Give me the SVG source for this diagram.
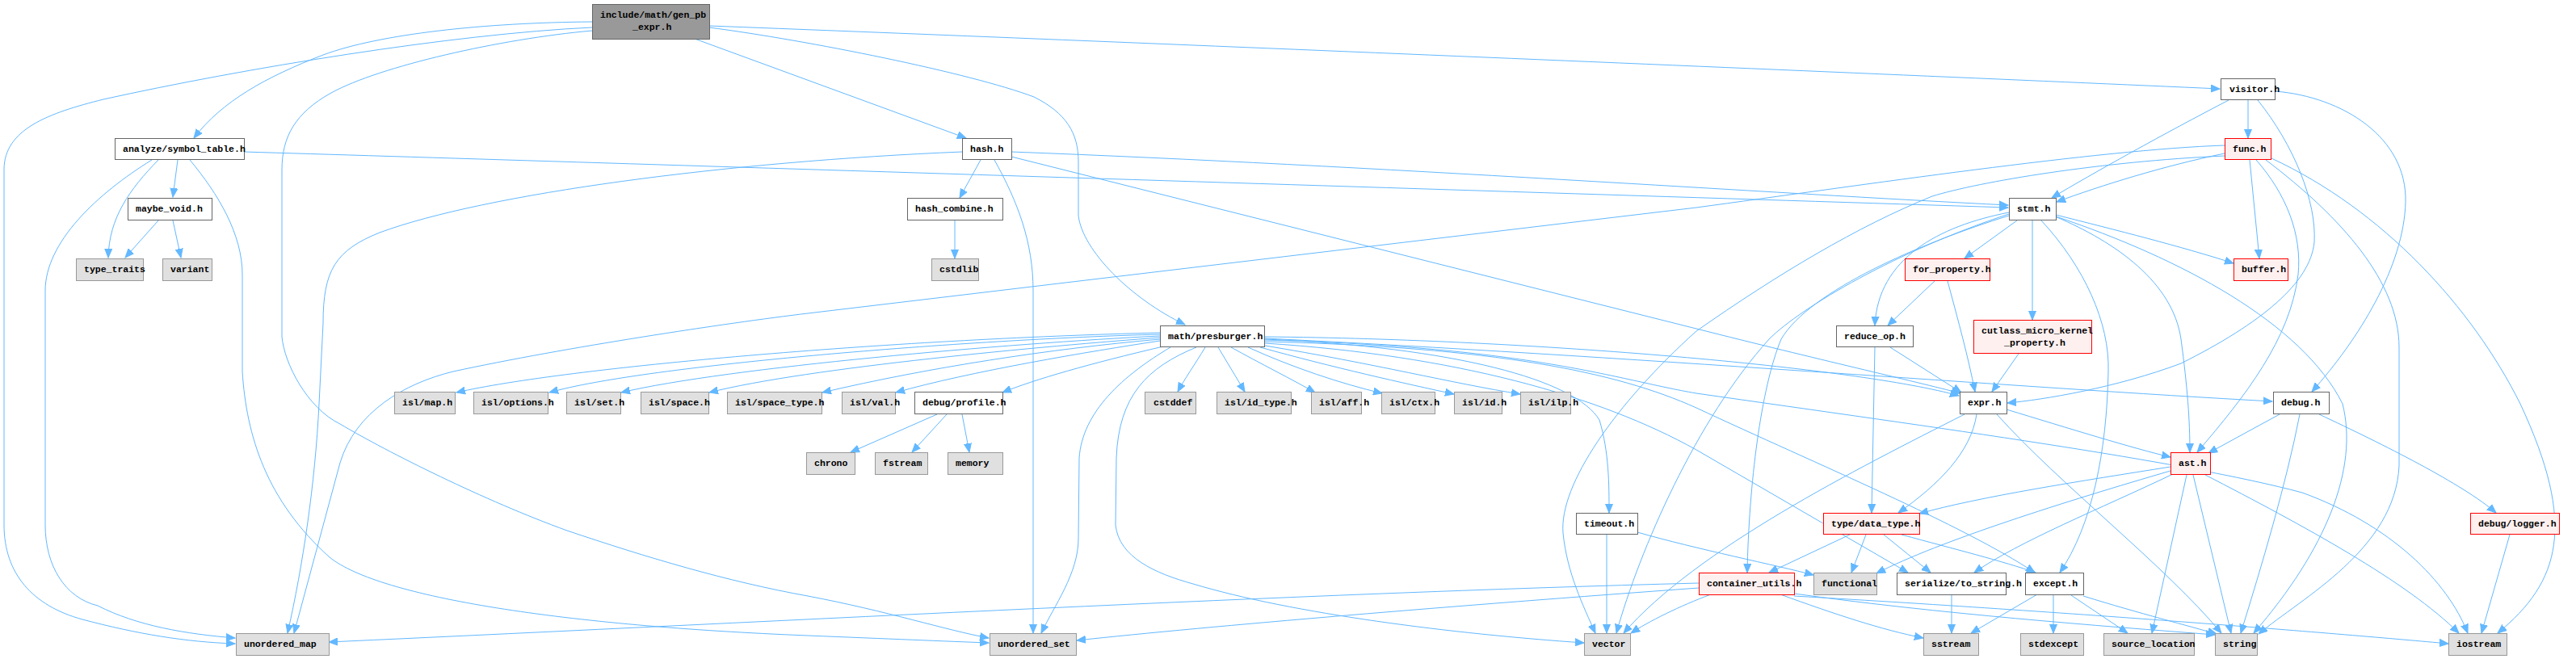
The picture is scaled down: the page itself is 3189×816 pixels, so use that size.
<svg xmlns="http://www.w3.org/2000/svg" width="3189" height="816" viewBox="0 0 3189 816">
<defs>
<style>
.e path{fill:none;stroke:#63b8ff;stroke-width:1;marker-end:url(#a)}
.d rect{fill:#ffffff;stroke:#666666;stroke-width:1}
.x rect{fill:#e0e0e0;stroke:#999999;stroke-width:1}
.r rect{fill:#fff0f0;stroke:#ff0000;stroke-width:1}
.root rect{fill:#999999;stroke:#666666;stroke-width:1}
text{font-family:"Liberation Mono","DejaVu Sans Mono",monospace;font-size:11.5px;font-weight:bold;fill:#000000}
</style>
<marker id="a" markerWidth="12" markerHeight="10" refX="11" refY="5" orient="auto" markerUnits="userSpaceOnUse">
<path d="M0,0.5 L11,5 L0,9.5 z" fill="#63b8ff" stroke="#63b8ff" stroke-width="1"/>
</marker>
</defs>
<rect width="3189" height="816" fill="#ffffff"/>
<g class="e">
<path d="M733,34 C560,42 300,85 128,123 C60,140 5,160 5,210 L5,650 C5,710 40,750 102,767 C170,785 230,795 291,797"/>
<path d="M733,38 C620,48 470,82 410,115 C365,140 349,170 349,210 L349,417 C352,450 380,505 421,525 C480,560 600,620 702,657 C800,690 900,720 1000,738 C1100,757 1170,780 1224,790"/>
<path d="M733,27 C600,28 470,42 400,68 C330,95 275,125 240,171"/>
<path d="M860,48 L1196,171"/>
<path d="M878,34 C1000,50 1200,90 1280,120 C1320,140 1335,165 1335,200 L1335,267 C1340,310 1400,370 1467,402"/>
<path d="M878,32 C1300,48 2300,90 2748,110"/>
<path d="M196,198 C160,235 135,270 134,319"/>
<path d="M188,198 C120,240 56,300 56,360 L56,650 C56,700 80,740 121,750 C170,775 230,785 291,790"/>
<path d="M235,198 C270,240 300,290 300,340 L300,460 C305,540 330,620 408,690 C470,740 700,775 1000,787 C1100,791 1170,794 1224,796"/>
<path d="M220,198 L214,244"/>
<path d="M302,188 C700,200 1800,235 2486,257"/>
<path d="M196,273 L155,319"/>
<path d="M214,273 L224,319"/>
<path d="M1191,188 C900,200 600,240 470,288 C415,310 400,335 400,400 L395,500 C390,600 375,700 356,784"/>
<path d="M1231,198 C1260,250 1279,300 1279,360 L1279,784"/>
<path d="M1214,198 L1188,245"/>
<path d="M1252,194 L2100,407 C2250,445 2370,472 2427,487"/>
<path d="M1252,188 C1700,205 2200,240 2486,254"/>
<path d="M1182,273 L1182,320"/>
<path d="M1436,412 C1100,420 700,455 565,486"/>
<path d="M1436,414 C1200,420 800,452 680,486"/>
<path d="M1436,416 C1250,425 900,455 769,486"/>
<path d="M1436,418 C1300,428 1000,455 878,486"/>
<path d="M1436,420 C1300,432 1150,455 1018,486"/>
<path d="M1436,422 C1350,435 1200,460 1109,486"/>
<path d="M1440,429 C1350,450 1280,470 1241,486"/>
<path d="M1492,430 C1480,450 1466,470 1458,485"/>
<path d="M1508,430 L1541,485"/>
<path d="M1524,430 C1560,450 1600,470 1628,486"/>
<path d="M1545,430 C1600,455 1660,475 1711,487"/>
<path d="M1560,430 C1650,455 1740,475 1800,488"/>
<path d="M1566,428 C1700,450 1800,475 1882,488"/>
<path d="M1566,420 C1800,430 1950,470 1980,520 C1992,560 1992,600 1992,635"/>
<path d="M1449,430 C1390,465 1340,510 1336,567 L1335,667 C1335,710 1305,750 1289,784"/>
<path d="M1481,430 C1420,455 1385,490 1382,567 L1381,650 C1385,690 1430,710 1477,723 C1600,760 1800,785 1961,796"/>
<path d="M1566,417 C1900,420 2300,455 2425,490"/>
<path d="M1566,419 C2000,440 2500,480 2813,497"/>
<path d="M1566,423 C1850,430 2000,460 2100,505 C2250,575 2430,650 2519,709"/>
<path d="M1566,425 C1800,440 1980,490 2100,557 L2362,709"/>
<path d="M1566,421 C1900,430 2000,470 2100,487 C2400,530 2700,570 2850,610 C2960,650 3030,720 3055,784"/>
<path d="M1160,513 L1053,560"/>
<path d="M1172,513 L1129,560"/>
<path d="M1191,513 L1200,560"/>
<path d="M1989,662 L1989,784"/>
<path d="M2027,659 C2100,680 2200,700 2245,712"/>
<path d="M2783,124 L2783,171"/>
<path d="M2759,124 C2680,165 2590,215 2540,245"/>
<path d="M2795,124 C2840,180 2868,250 2865,300 C2860,350 2800,400 2700,450 C2620,480 2530,495 2485,499"/>
<path d="M2817,113 C2900,120 2980,170 2978,250 C2976,330 2920,420 2862,485"/>
<path d="M2754,190 C2680,205 2600,230 2546,250"/>
<path d="M2785,198 L2797,320"/>
<path d="M2793,198 C2830,240 2850,290 2845,340 C2835,420 2780,490 2720,560"/>
<path d="M2754,180 C2600,185 2300,230 2100,257 L1000,388 C900,400 700,430 561,460 C500,475 440,510 421,573 L364,784"/>
<path d="M2754,193 C2600,200 2450,225 2392,243 C2300,280 2200,340 2100,410 C2000,500 1930,600 1935,660 C1940,710 1960,750 1975,784"/>
<path d="M2805,198 C2900,270 2970,350 2970,430 L2970,577 C2965,680 2850,740 2796,785"/>
<path d="M2812,196 C2950,260 3060,380 3120,500 C3190,650 3170,720 3092,784"/>
<path d="M2497,273 L2432,320"/>
<path d="M2516,273 L2516,396"/>
<path d="M2487,263 C2400,280 2325,320 2321,403"/>
<path d="M2545,266 C2620,285 2700,305 2765,326"/>
<path d="M2544,268 C2620,300 2690,350 2700,420 C2708,480 2711,520 2711,560"/>
<path d="M2527,273 C2580,330 2612,400 2610,460 C2608,560 2590,650 2550,709"/>
<path d="M2487,267 C2380,300 2240,360 2205,420 C2180,480 2165,600 2163,709"/>
<path d="M2487,265 C2350,310 2230,380 2190,420 C2100,520 2030,680 2001,784"/>
<path d="M2545,268 C2700,320 2850,400 2900,500 C2920,580 2880,680 2790,784"/>
<path d="M2395,348 L2337,403"/>
<path d="M2411,348 C2425,400 2436,440 2445,485"/>
<path d="M2340,430 L2428,486"/>
<path d="M2321,430 L2317,635"/>
<path d="M2499,438 L2466,485"/>
<path d="M2484,507 C2560,530 2640,555 2687,566"/>
<path d="M2447,513 C2440,560 2400,600 2350,635"/>
<path d="M2472,513 C2550,600 2680,700 2750,784"/>
<path d="M2432,513 C2300,580 2100,680 2010,784"/>
<path d="M2822,513 L2734,561"/>
<path d="M2847,513 C2830,600 2800,700 2774,784"/>
<path d="M2871,513 C2950,550 3050,600 3090,635"/>
<path d="M2687,578 C2580,595 2450,615 2376,636"/>
<path d="M2687,583 C2560,620 2400,670 2323,710"/>
<path d="M2690,587 C2600,630 2500,670 2444,709"/>
<path d="M2707,588 L2664,784"/>
<path d="M2715,588 L2762,784"/>
<path d="M2730,588 C2850,650 2980,720 3044,784"/>
<path d="M2290,662 L2190,709"/>
<path d="M2310,662 L2292,709"/>
<path d="M2332,662 L2390,709"/>
<path d="M2354,662 C2420,680 2480,695 2520,709"/>
<path d="M3107,662 L3072,784"/>
<path d="M2103,722 C1600,735 1000,768 407,795"/>
<path d="M2103,728 C1800,750 1500,775 1333,793"/>
<path d="M2118,736 C2080,750 2040,770 2019,784"/>
<path d="M2204,736 C2270,760 2330,780 2381,790"/>
<path d="M2221,735 C2400,760 2600,775 2742,786"/>
<path d="M2221,738 C2600,760 2900,785 3031,797"/>
<path d="M2416,736 L2416,784"/>
<path d="M2522,736 L2440,784"/>
<path d="M2542,736 L2542,784"/>
<path d="M2564,737 L2634,784"/>
<path d="M2579,738 C2650,760 2710,775 2744,785"/>
</g>
<g id="n_gen_pb_expr" class="root"><rect x="733.5" y="5.5" width="145" height="43"/><text x="743" y="21.5">include/math/gen_pb</text><text x="783" y="37">_expr.h</text></g>
<g id="n_symbol_table" class="d"><rect x="142.5" y="171.5" width="160" height="26"/><text x="152" y="188">analyze/symbol_table.h</text></g>
<g id="n_maybe_void" class="d"><rect x="158.5" y="245.5" width="104" height="27"/><text x="168" y="262">maybe_void.h</text></g>
<g id="n_type_traits" class="x"><rect x="94.5" y="320.5" width="83" height="27"/><text x="104" y="337">type_traits</text></g>
<g id="n_variant" class="x"><rect x="201.5" y="320.5" width="61" height="27"/><text x="211" y="337">variant</text></g>
<g id="n_hash" class="d"><rect x="1191.5" y="171.5" width="61" height="26"/><text x="1201" y="188">hash.h</text></g>
<g id="n_hash_combine" class="d"><rect x="1123.5" y="245.5" width="118" height="27"/><text x="1133" y="262">hash_combine.h</text></g>
<g id="n_cstdlib" class="x"><rect x="1153.5" y="320.5" width="58" height="27"/><text x="1163" y="337">cstdlib</text></g>
<g id="n_presburger" class="d"><rect x="1436.5" y="403.5" width="129" height="26"/><text x="1446" y="420">math/presburger.h</text></g>
<g id="n_isl_map" class="x"><rect x="488.5" y="485.5" width="75" height="27"/><text x="498" y="502">isl/map.h</text></g>
<g id="n_isl_options" class="x"><rect x="586.5" y="485.5" width="92" height="27"/><text x="596" y="502">isl/options.h</text></g>
<g id="n_isl_set" class="x"><rect x="701.5" y="485.5" width="67" height="27"/><text x="711" y="502">isl/set.h</text></g>
<g id="n_isl_space" class="x"><rect x="793.5" y="485.5" width="84" height="27"/><text x="803" y="502">isl/space.h</text></g>
<g id="n_isl_space_type" class="x"><rect x="900.5" y="485.5" width="117" height="27"/><text x="910" y="502">isl/space_type.h</text></g>
<g id="n_isl_val" class="x"><rect x="1042.5" y="485.5" width="66" height="27"/><text x="1052" y="502">isl/val.h</text></g>
<g id="n_debug_profile" class="d"><rect x="1132.5" y="485.5" width="109" height="27"/><text x="1142" y="502">debug/profile.h</text></g>
<g id="n_cstddef" class="x"><rect x="1417.5" y="485.5" width="63" height="27"/><text x="1428" y="502">cstddef</text></g>
<g id="n_isl_id_type" class="x"><rect x="1506.5" y="485.5" width="92" height="27"/><text x="1516" y="502">isl/id_type.h</text></g>
<g id="n_isl_aff" class="x"><rect x="1623.5" y="485.5" width="62" height="27"/><text x="1633" y="502">isl/aff.h</text></g>
<g id="n_isl_ctx" class="x"><rect x="1710.5" y="485.5" width="66" height="27"/><text x="1720" y="502">isl/ctx.h</text></g>
<g id="n_isl_id" class="x"><rect x="1800.5" y="485.5" width="59" height="27"/><text x="1810" y="502">isl/id.h</text></g>
<g id="n_isl_ilp" class="x"><rect x="1882.5" y="485.5" width="62" height="27"/><text x="1892" y="502">isl/ilp.h</text></g>
<g id="n_chrono" class="x"><rect x="998.5" y="560.5" width="60" height="27"/><text x="1008" y="577">chrono</text></g>
<g id="n_fstream" class="x"><rect x="1083.5" y="560.5" width="65" height="27"/><text x="1093" y="577">fstream</text></g>
<g id="n_memory" class="x"><rect x="1173.5" y="560.5" width="68" height="27"/><text x="1183" y="577">memory</text></g>
<g id="n_timeout" class="d"><rect x="1951.5" y="635.5" width="76" height="26"/><text x="1961" y="652">timeout.h</text></g>
<g id="n_unordered_map" class="x"><rect x="292.5" y="784.5" width="115" height="27"/><text x="302" y="801">unordered_map</text></g>
<g id="n_unordered_set" class="x"><rect x="1225.5" y="784.5" width="107" height="27"/><text x="1235" y="801">unordered_set</text></g>
<g id="n_vector" class="x"><rect x="1961.5" y="784.5" width="57" height="27"/><text x="1971" y="801">vector</text></g>
<g id="n_visitor" class="d"><rect x="2749.5" y="97.5" width="67" height="26"/><text x="2760" y="114">visitor.h</text></g>
<g id="n_func" class="r"><rect x="2754.5" y="171.5" width="57" height="26"/><text x="2764" y="188">func.h</text></g>
<g id="n_stmt" class="d"><rect x="2487.5" y="245.5" width="58" height="27"/><text x="2497" y="262">stmt.h</text></g>
<g id="n_for_property" class="r"><rect x="2358.5" y="320.5" width="105" height="27"/><text x="2368" y="337">for_property.h</text></g>
<g id="n_buffer" class="r"><rect x="2765.5" y="320.5" width="67" height="27"/><text x="2775" y="337">buffer.h</text></g>
<g id="n_reduce_op" class="d"><rect x="2273.5" y="403.5" width="95" height="26"/><text x="2283" y="420">reduce_op.h</text></g>
<g id="n_cutlass" class="r"><rect x="2443.5" y="396.5" width="146" height="41"/><text x="2453" y="412.5">cutlass_micro_kernel</text><text x="2481" y="428">_property.h</text></g>
<g id="n_expr" class="d"><rect x="2426.5" y="485.5" width="58" height="27"/><text x="2436" y="502">expr.h</text></g>
<g id="n_debug" class="d"><rect x="2814.5" y="485.5" width="69" height="27"/><text x="2824" y="502">debug.h</text></g>
<g id="n_ast" class="r"><rect x="2687.5" y="560.5" width="49" height="27"/><text x="2697" y="577">ast.h</text></g>
<g id="n_data_type" class="r"><rect x="2257.5" y="635.5" width="119" height="26"/><text x="2267" y="652">type/data_type.h</text></g>
<g id="n_logger" class="r"><rect x="3058.5" y="635.5" width="110" height="26"/><text x="3068" y="652">debug/logger.h</text></g>
<g id="n_container_utils" class="r"><rect x="2103.5" y="709.5" width="118" height="27"/><text x="2113" y="726">container_utils.h</text></g>
<g id="n_functional" class="x"><rect x="2245.5" y="709.5" width="78" height="27"/><text x="2255" y="726">functional</text></g>
<g id="n_serialize" class="d"><rect x="2348.5" y="709.5" width="135" height="27"/><text x="2358" y="726">serialize/to_string.h</text></g>
<g id="n_except" class="d"><rect x="2507.5" y="709.5" width="72" height="27"/><text x="2517" y="726">except.h</text></g>
<g id="n_sstream" class="x"><rect x="2381.5" y="784.5" width="68" height="27"/><text x="2391" y="801">sstream</text></g>
<g id="n_stdexcept" class="x"><rect x="2501.5" y="784.5" width="78" height="27"/><text x="2511" y="801">stdexcept</text></g>
<g id="n_source_location" class="x"><rect x="2604.5" y="784.5" width="112" height="27"/><text x="2614" y="801">source_location</text></g>
<g id="n_string" class="x"><rect x="2742.5" y="784.5" width="52" height="27"/><text x="2752" y="801">string</text></g>
<g id="n_iostream" class="x"><rect x="3031.5" y="784.5" width="72" height="27"/><text x="3041" y="801">iostream</text></g>
</svg>
